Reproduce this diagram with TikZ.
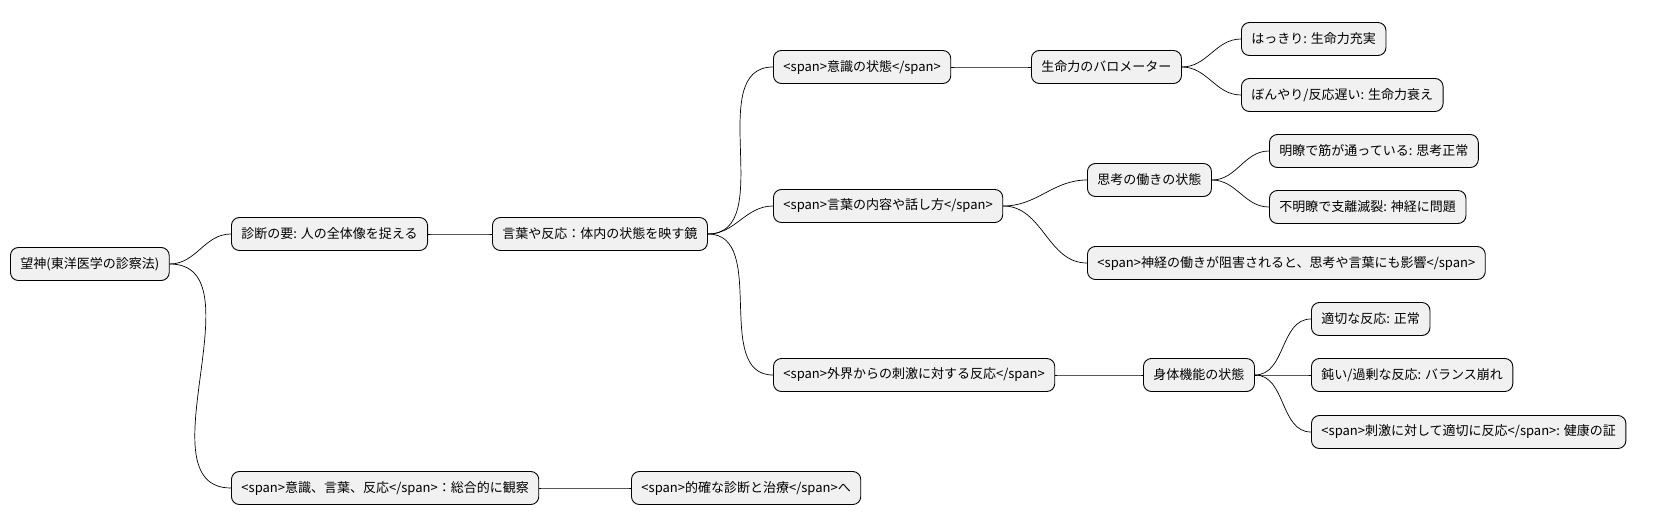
\documentclass[tikz,border=0pt]{standalone}
\usepackage{fontspec}
\setmainfont{Noto Sans CJK JP}
\usetikzlibrary{positioning}
\definecolor{boxfill}{HTML}{F1F1F1}

\begin{document}
\begin{tikzpicture}[
    x=1pt, y=-1pt,
    topic/.style={rectangle, draw=black, fill=boxfill, line width=0.9pt, rounded corners=8pt,
        minimum height=33pt, inner xsep=10pt, anchor=west, font=\fontsize{13}{15}\selectfont},
    link/.style={line width=0.7pt, out=0, in=180}
]
    \useasboundingbox (0,0) rectangle (1680,527);

    % Root and first level
    \node[topic] (root) at (10,264) {望神(東洋医学の診察法)};
    \node[topic] (key) at (231,234) {診断の要: 人の全体像を捉える};
    \node[topic] (mirror) at (492,234) {言葉や反応：体内の状態を映す鏡};
    \node[topic] (whole) at (231,488) {<span>意識、言葉、反応</span>：総合的に観察};
    \node[topic] (cure) at (631,488) {<span>的確な診断と治療</span>へ};

    % Consciousness
    \node[topic] (mind) at (773,67) {<span>意識の状態</span>};
    \node[topic] (vital) at (1031,67) {生命力のバロメーター};
    \node[topic] (clear) at (1241,39) {はっきり: 生命力充実};
    \node[topic] (vague) at (1241,95) {ぼんやり/反応遅い: 生命力衰え};

    % Speech
    \node[topic] (speech) at (773,206) {<span>言葉の内容や話し方</span>};
    \node[topic] (think) at (1087,180) {思考の働きの状態};
    \node[topic] (lucid) at (1269,151) {明瞭で筋が通っている: 思考正常};
    \node[topic] (muddle) at (1269,207) {不明瞭で支離滅裂: 神経に問題};
    \node[topic] (nerve) at (1087,263) {<span>神経の働きが阻害されると、思考や言葉にも影響</span>};

    % Reaction
    \node[topic] (react) at (773,375) {<span>外界からの刺激に対する反応</span>};
    \node[topic] (body) at (1143,375) {身体機能の状態};
    \node[topic] (normal) at (1311,319) {適切な反応: 正常};
    \node[topic] (unbal) at (1311,375) {鈍い/過剰な反応: バランス崩れ};
    \node[topic] (health) at (1311,432) {<span>刺激に対して適切に反応</span>: 健康の証};

    % Connectors
    \foreach \a/\b in {root/key, root/whole, key/mirror, whole/cure,
        mirror/mind, mirror/speech, mirror/react,
        mind/vital, vital/clear, vital/vague,
        speech/think, speech/nerve, think/lucid, think/muddle,
        react/body, body/normal, body/unbal, body/health}
        \draw[link] (\a.east) to (\b.west);
\end{tikzpicture}
\end{document}
